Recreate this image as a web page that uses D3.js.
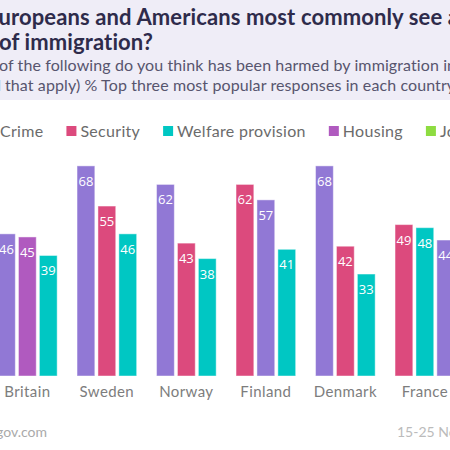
<!DOCTYPE html>
<html>
<head>
<meta charset="utf-8">
<script src="https://cdnjs.cloudflare.com/ajax/libs/d3/7.8.5/d3.min.js"></script>
<style>
  html, body { margin: 0; padding: 0; background: #fff; overflow: hidden; }
  svg { display: block; font-family: Lato, "Open Sans", sans-serif; }
</style>
</head>
<body>
<div id="chart"></div>
<script>
// 데이터 (Top three responses per country, %)
const countries = ['Britain', 'Sweden', 'Norway', 'Finland', 'Denmark', 'France'];
const crime    = [46, 68, 62, 57, 68, 44];
const security = [null, 55, 43, 62, 42, 49];
const welfare  = [39, 46, 38, 41, 33, 48];
const housing  = [45, null, null, null, null, null];
const jobs     = [null, null, null, null, null, null];

const seriesNames = ['Crime', 'Security', 'Welfare provision', 'Housing', 'Jobs'];
const seriesValues = [crime, security, welfare, housing, jobs];
const colors = ['#9178d5', '#dc4a7d', '#00c7c3', '#b05abf', '#8edc41'];

// 나라별 상위 3개 (내림차순)
const groups = countries.map((c, i) => {
    const items = [];
    seriesNames.forEach((s, j) => {
        const v = seriesValues[j][i];
        if (v != null) items.push({ country: c, series: s, value: v, color: colors[j] });
    });
    items.sort((a, b) => b.value - a.value);
    return { country: c, items: items.slice(0, 3) };
});

const W = 450, H = 450;
const svg = d3.select('#chart').append('svg')
    .attr('width', W)
    .attr('height', H);

// 헤더
svg.append('rect')
    .attr('x', 0).attr('y', 0)
    .attr('width', W).attr('height', 100)
    .attr('fill', '#efedf7');

svg.append('text')
    .attr('x', -14).attr('y', 25)
    .attr('font-size', 22).attr('font-weight', 700)
    .attr('letter-spacing', 0.12)
    .attr('fill', '#2e2b4b')
    .text('Europeans and Americans most commonly see a negative impact');
svg.append('text')
    .attr('x', -1).attr('y', 50)
    .attr('font-size', 22).attr('font-weight', 700)
    .attr('letter-spacing', 0.12)
    .attr('fill', '#2e2b4b')
    .text('of immigration?');

svg.append('text')
    .attr('x', -1).attr('y', 71)
    .attr('font-size', 16)
    .attr('letter-spacing', 0.1)
    .attr('fill', '#57556e')
    .text('of the following do you think has been harmed by immigration in your country?');
svg.append('text')
    .attr('x', 1).attr('y', 91)
    .attr('font-size', 16)
    .attr('text-anchor', 'end')
    .attr('fill', '#57556e')
    .text('(Please select all');
svg.append('text')
    .attr('x', 5).attr('y', 91)
    .attr('font-size', 16)
    .attr('letter-spacing', 0.1)
    .attr('fill', '#57556e')
    .text('that apply) % Top three most popular responses in each country');

// 범례
const legend = svg.append('g').attr('transform', 'translate(0,131)');
let lx = -14;
seriesNames.forEach((s, j) => {
    const item = legend.append('g').attr('transform', `translate(${lx},0)`);
    item.append('rect')
        .attr('x', 0).attr('y', -5)
        .attr('width', 10).attr('height', 10)
        .attr('fill', colors[j]);
    const t = item.append('text')
        .attr('x', 14).attr('y', 5.5)
        .attr('font-size', 16)
        .attr('letter-spacing', 0.3)
        .attr('fill', '#6b6b6b')
        .text(s);
    lx += 14 + t.node().getComputedTextLength() + 23;
});

// 스케일
const x0 = d3.scaleBand()
    .domain(countries)
    .range([-12.4, -12.4 + 79.5 * countries.length])
    .paddingInner(0.25)
    .paddingOuter(0.125);

const x1 = d3.scaleBand()
    .domain([0, 1, 2])
    .range([0, x0.bandwidth()])
    .paddingInner(0.15);

const y = d3.scaleLinear()
    .domain([0, 70])
    .range([376, 376 - 3.09 * 70]);

const g = svg.append('g');

const country = g.selectAll('.country')
    .data(groups)
    .enter().append('g')
    .attr('class', 'country')
    .attr('transform', d => `translate(${x0(d.country)},0)`);

country.selectAll('.bar')
    .data(d => d.items)
    .enter().append('rect')
    .attr('class', 'bar')
    .attr('x', (d, i) => x1(i))
    .attr('y', d => y(d.value))
    .attr('width', x1.bandwidth())
    .attr('height', d => y(0) - y(d.value))
    .attr('fill', d => d.color)
    .attr('stroke', 'rgba(255,255,255,0.45)')
    .attr('stroke-width', 1);

country.selectAll('.val')
    .data(d => d.items)
    .enter().append('text')
    .attr('class', 'val')
    .attr('x', (d, i) => x1(i) + x1.bandwidth() / 2)
    .attr('y', d => y(d.value) + 20)
    .attr('text-anchor', 'middle')
    .attr('font-size', 13)
    .attr('font-family', '"Open Sans", sans-serif')
    .attr('font-weight', 500)
    .attr('fill', '#fff')
    .text(d => d.value);

// x축 (나라 이름)
const xAxis = g.append('g')
    .attr('transform', `translate(0,${y(0)})`)
    .call(d3.axisBottom(x0).tickSize(0).tickPadding(10));
xAxis.select('.domain').remove();
xAxis.selectAll('text')
    .attr('font-size', 15)
    .attr('font-family', 'Lato, sans-serif')
    .attr('letter-spacing', 0.4)
    .attr('fill', '#7d7d7d');

// 푸터
svg.append('text')
    .attr('x', 47).attr('y', 437)
    .attr('text-anchor', 'end')
    .attr('font-size', 14)
    .attr('fill', '#aaa')
    .text('today.yougov.com');
svg.append('text')
    .attr('x', 397).attr('y', 437)
    .attr('font-size', 14)
    .attr('fill', '#bbb')
    .text('15-25 November 2024');
</script>
</body>
</html>
